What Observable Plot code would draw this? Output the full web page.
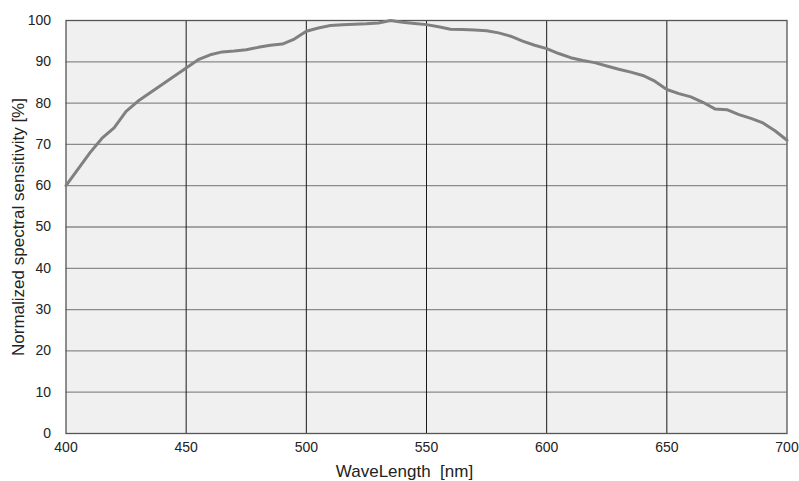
<!DOCTYPE html>
<html>
<head>
<meta charset="utf-8">
<script src="https://cdn.jsdelivr.net/npm/d3@7"></script>
<script src="https://cdn.jsdelivr.net/npm/@observablehq/plot@0.6"></script>
<style>
  html, body { margin: 0; padding: 0; background: #ffffff; }
  #chart svg { display: block; }
</style>
</head>
<body>
<div id="chart"></div>
<script>
// Spectral response of the sensor, sampled every 5 nm
const wavelengths = [
  400, 405, 410, 415, 420, 425, 430, 435, 440, 445,
  450, 455, 460, 465, 470, 475, 480, 485, 490, 495,
  500, 505, 510, 515, 520, 525, 530, 535, 540, 545,
  550, 555, 560, 565, 570, 575, 580, 585, 590, 595,
  600, 605, 610, 615, 620, 625, 630, 635, 640, 645,
  650, 655, 660, 665, 670, 675, 680, 685, 690, 695, 700
];
const sensitivity = [
  60.0, 64.0, 68.0, 71.5, 74.0, 78.0, 80.5, 82.5, 84.5, 86.5,
  88.5, 90.5, 91.7, 92.4, 92.6, 92.9, 93.5, 94.0, 94.3, 95.5,
  97.4, 98.2, 98.8, 99.0, 99.1, 99.2, 99.4, 100.0, 99.6, 99.3,
  99.0, 98.5, 97.9, 97.8, 97.7, 97.5, 97.0, 96.2, 95.0, 94.0,
  93.2, 92.0, 91.0, 90.3, 89.8, 89.0, 88.2, 87.5, 86.7, 85.3,
  83.3, 82.3, 81.5, 80.2, 78.6, 78.4, 77.2, 76.3, 75.2, 73.3, 71.0
];
const xTicks = [400, 450, 500, 550, 600, 650, 700];
const yTicks = [0, 10, 20, 30, 40, 50, 60, 70, 80, 90, 100];
const xGrid = [450, 500, 550, 600, 650];
const yGrid = [10, 20, 30, 40, 50, 60, 70, 80, 90];

const curve = wavelengths.map((w, i) => ({ w, s: sensitivity[i] }));

const chart = Plot.plot({
  width: 799,
  height: 481,
  marginLeft: 65.5,
  marginRight: 12.5,
  marginTop: 20,
  marginBottom: 48,
  style: { fontFamily: "'Liberation Sans', Arial, sans-serif", background: "#ffffff", color: "#222" },
  x: { domain: [400, 700], label: null },
  y: { domain: [0, 100], label: null },
  marks: [
    Plot.frame({ fill: "#f0f0f0", stroke: null }),
    Plot.ruleY(yGrid, { stroke: "#8a8a8a", strokeWidth: 1.3 }),
    Plot.ruleX(xGrid, { stroke: "#1a1a1a", strokeWidth: 1 }),
    Plot.frame({ stroke: "#555", strokeWidth: 1.3 }),
    Plot.axisX(xTicks, { tickSize: 0, tickPadding: 9, fontSize: 14, label: null }),
    Plot.axisY(yTicks, { tickSize: 0, tickPadding: 15, fontSize: 14, label: null }),
    Plot.line(curve, { x: "w", y: "s", stroke: "#808080", strokeWidth: 3, strokeLinejoin: "round" }),
    Plot.text(["WaveLength  [nm]"], {
      frameAnchor: "bottom", textAnchor: "middle", dx: -22, dy: 38, fontSize: 17, fill: "#222", lineAnchor: "middle"
    }),
    Plot.text(["Normalized spectral sensitivity [%]"], {
      frameAnchor: "left", textAnchor: "middle", dx: -47, rotate: -90, fontSize: 17, fill: "#222", lineAnchor: "middle"
    })
  ]
});

document.getElementById("chart").appendChild(chart);
</script>
</body>
</html>
